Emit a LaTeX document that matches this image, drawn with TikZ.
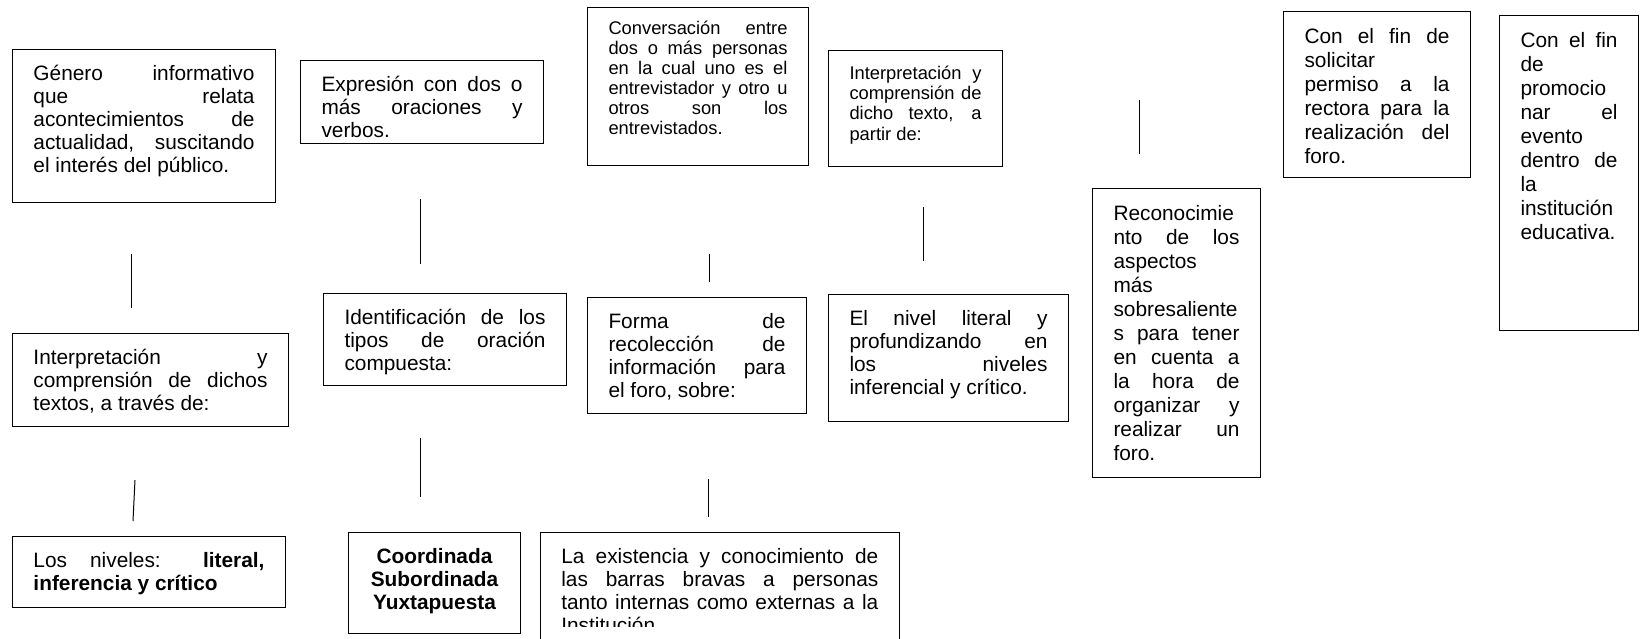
\documentclass[tikz,border=0pt]{standalone}
\usepackage{fontspec}
\setmainfont{Liberation Sans}
\newdimen\px \px=0.6pt
\newcommand{\jl}[1]{\makebox[\linewidth][s]{#1}}
\newcommand{\caja}[3]{\parbox[t][\dimexpr#2\px-18pt\relax][t]{\dimexpr#1\px-42\px\relax}{\strut#3}}

\begin{document}
\begin{tikzpicture}[x=0.6pt,y=-0.6pt,
    cuadro/.style={draw,line width=0.6pt,anchor=north west,inner xsep=21*\px,inner ysep=9pt,font=\fontsize{12.5}{13.8}\selectfont},
    chica/.style={font=\fontsize{11}{12.1}\selectfont},
    amplio/.style={font=\fontsize{12.5}{14.4}\selectfont},
    linea/.style={line width=0.6pt}]
    \useasboundingbox (0,0) rectangle (1641,639);
    \node[cuadro] (genero) at (12,49) {\caja{263}{153}{\jl{Género informativo}\\ \jl{que relata}\\ \jl{acontecimientos de}\\ \jl{actualidad, suscitando}\\ el interés del público.}};
    \node[cuadro] (expresion) at (300,60) {\caja{243}{83}{\jl{Expresión con dos o}\\ \jl{más oraciones y}\\ verbos.}};
    \node[cuadro,chica,inner ysep=7.5pt] (entrevista) at (587,7) {\caja{221}{163}{\jl{Conversación entre}\\ \jl{dos o más personas}\\ \jl{en la cual uno es el}\\ \jl{entrevistador y otro u}\\ \jl{otros son los}\\ entrevistados.}};
    \node[cuadro,chica] (lectura) at (828,50) {\caja{174}{116}{\jl{Interpretación y}\\ \jl{comprensión de}\\ \jl{dicho texto, a}\\ partir de:}};
    \node[cuadro,amplio] (permiso) at (1283,11) {\caja{187}{166}{\jl{Con el fin de}\\ solicitar\\ \jl{permiso a la}\\ \jl{rectora para la}\\ \jl{realización del}\\ foro.}};
    \node[cuadro,amplio] (promocion) at (1499,15) {\caja{139}{315}{\jl{Con el fin}\\ de\\ promocio\\ \jl{nar el}\\ evento\\ \jl{dentro de}\\ la\\ institución\\ educativa.}};
    \node[cuadro,amplio] (aspectos) at (1092,188) {\caja{168}{289}{Reconocimie\\ \jl{nto de los}\\ aspectos\\ más\\ sobresaliente\\ \jl{s para tener}\\ \jl{en cuenta a}\\ \jl{la hora de}\\ \jl{organizar y}\\ \jl{realizar un}\\ foro.}};
    \node[cuadro] (textos) at (12,333) {\caja{276}{93}{\jl{Interpretación y}\\ \jl{comprensión de dichos}\\ textos, a través de:}};
    \node[cuadro] (niveles) at (12,536) {\caja{273}{71}{\jl{Los niveles: \textbf{literal,}}\\ \textbf{inferencia y crítico}}};
    \node[cuadro] (oracion) at (323,293) {\caja{243}{92}{\jl{Identificación de los}\\ \jl{tipos de oración}\\ compuesta:}};
    \node[cuadro] (tipos) at (348,532) {\caja{172}{101}{\centering\bfseries Coordinada\\ Subordinada\\ Yuxtapuesta}};
    \node[cuadro] (recoleccion) at (587,297) {\caja{219}{116}{\jl{Forma de}\\ \jl{recolección de}\\ \jl{información para}\\ el foro, sobre:}};
    \node[cuadro] (nivel) at (828,294) {\caja{240}{127}{\jl{El nivel literal y}\\ \jl{profundizando en}\\ \jl{los niveles}\\ inferencial y crítico.}};
    % cuadro cortado abajo
    \node[cuadro,minimum width=359*\px,minimum height=130*\px] (barras) at (540,532) {};
    \begin{scope}
      \clip (540,532) rectangle (899,626);
      \node[anchor=north west,inner sep=0pt,font=\fontsize{12.5}{13.8}\selectfont] (barrastxt) at ([xshift=21*\px,yshift=-9pt]barras.north west) {\parbox[t]{317\px}{\strut\jl{La existencia y conocimiento de}\\ \jl{las barras bravas a personas}\\ \jl{tanto internas como externas a la}\\ Institución.}};
    \end{scope}
    % lineas sueltas
    \foreach \xa/\ya/\xb/\yb [count=\i] in {131/254/131/308,135/480/133/521,420/199/420/264,420/438/420/497,709/254/709/282,708/479/708/517,923/207/923/261,1139/100/1139/154}
    {
      \coordinate (a\i) at (\xa,\ya);
      \coordinate (b\i) at (\xb,\yb);
      \draw[linea] (a\i) -- (b\i);
    }
\end{tikzpicture}
\end{document}
